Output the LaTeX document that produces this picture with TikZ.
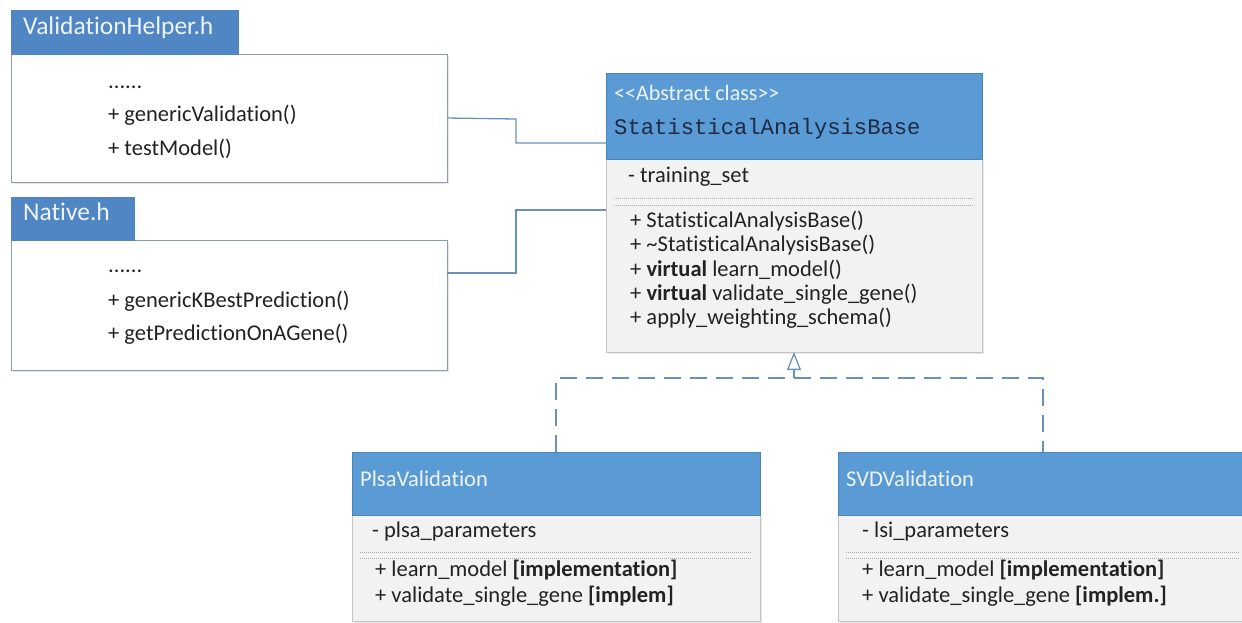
\documentclass[tikz,border=0pt]{standalone}
\usepackage{fontspec}
\setmainfont{Carlito}[Ligatures={NoCommon}]
\newfontfamily\codefont{Liberation Mono}
\usetikzlibrary{arrows.meta,shadows}
\definecolor{hdrblue}{HTML}{5B9BD5}
\definecolor{tabblue}{HTML}{4F86C3}
\definecolor{hdrtext}{HTML}{EEF4FB}
\definecolor{bodyfill}{HTML}{F2F2F2}
\definecolor{bodyline}{HTML}{C4C4C4}
\definecolor{sepcol}{HTML}{ABABAB}
\definecolor{fileline}{HTML}{8A9AB0}
\definecolor{connline}{HTML}{6A90BA}
\definecolor{txtcol}{HTML}{222222}
\definecolor{codecol}{HTML}{1F2A44}
\begin{document}
\begin{tikzpicture}[x=1pt,y=-1pt,
  shade/.style={drop shadow={opacity=0.18,shadow xshift=1.5pt,shadow yshift=-2pt}},
  filebox/.style={draw=fileline,fill=white,line width=1pt,anchor=north west,inner sep=0,outer sep=0,shade},
  tabbox/.style={fill=tabblue,draw=tabblue,line width=0.6pt,anchor=north west,inner sep=0,outer sep=0},
  headbox/.style={fill=hdrblue,draw=hdrblue!85!black,line width=0.6pt,anchor=north west,inner sep=0,outer sep=0},
  bodybox/.style={fill=bodyfill,draw=bodyline,line width=1pt,anchor=north west,inner sep=0,outer sep=0,shade},
  txt/.style={anchor=west,inner sep=0,text height=0.7em,text depth=0.2em,font=\fontsize{22.5}{24}\selectfont,text=txtcol},
  ttl/.style={anchor=west,inner sep=0,text height=0.7em,text depth=0.2em,font=\fontsize{25.5}{28}\selectfont,text=hdrtext},
  htxt/.style={anchor=west,inner sep=0,text height=0.7em,text depth=0.2em,font=\fontsize{22.5}{24}\selectfont,text=hdrtext},
  sepline/.style={draw=sepcol,line width=0.9pt,dash pattern=on 1pt off 1pt},
  conn/.style={draw=connline,line width=1.3pt},
  realize/.style={draw=connline,line width=1.5pt,dash pattern=on 17pt off 9pt}
]
\useasboundingbox (0,0) rectangle (1242,622);
\clip (0,0) rectangle (1242,622);

% ValidationHelper.h
\node[filebox,minimum width=436pt,minimum height=128pt] (vh) at (11,54) {};
\node[tabbox,minimum width=227pt,minimum height=44pt] (vhtab) at (11,10) {};
\node[ttl] (vhtitle) at (23,32) {ValidationHelper.h};
\node[txt] (vh1) at (108,86) {......};
\node[txt] (vh2) at (108,119) {+ genericValidation()};
\node[txt] (vh3) at (108,153) {+ testModel()};

% Native.h
\node[filebox,minimum width=436pt,minimum height=130pt] (nat) at (11,240) {};
\node[tabbox,minimum width=123pt,minimum height=43pt] (nattab) at (11,197) {};
\node[ttl] (nattitle) at (23,218) {Native.h};
\node[txt] (nat1) at (108,270) {......};
\node[txt] (nat2) at (108,305) {+ genericKBestPrediction()};
\node[txt] (nat3) at (108,338) {+ getPredictionOnAGene()};

% StatisticalAnalysisBase
\node[bodybox,minimum width=376pt,minimum height=193pt] (sab) at (606,159) {};
\node[headbox,minimum width=376pt,minimum height=86pt] (sabhead) at (606,73) {};
\node[htxt,font=\fontsize{22}{24}\selectfont] (sabster) at (614,98) {<\kern0pt<Abstract class>\kern0pt>};
\node[anchor=west,inner sep=0,text height=0.7em,text depth=0.2em,font=\codefont\fontsize{22.2}{24}\selectfont,text=codecol] (sabname) at (614,132) {StatisticalAnalysisBase};
\node[txt] (sa1) at (628,180) {- training\_set};
\draw[sepline] ([xshift=8pt,yshift=-39pt]sab.north west) -- ([xshift=-8pt,yshift=-39pt]sab.north east);
\draw[sepline] ([xshift=8pt,yshift=-46pt]sab.north west) -- ([xshift=-8pt,yshift=-46pt]sab.north east);
\node[txt] (sm1) at (630,225) {+ StatisticalAnalysisBase()};
\node[txt] (sm2) at (630,249) {+ \textasciitilde StatisticalAnalysisBase()};
\node[txt] (sm3) at (630,274) {+ \textbf{virtual} learn\_model()};
\node[txt] (sm4) at (630,298) {+ \textbf{virtual} validate\_single\_gene()};
\node[txt] (sm5) at (630,322) {+ apply\_weighting\_schema()};

% PlsaValidation
\node[bodybox,minimum width=408pt,minimum height=106pt] (plsa) at (352,515) {};
\node[headbox,minimum width=408pt,minimum height=63pt] (plsahead) at (352,452) {};
\node[htxt] (plsatitle) at (360,484) {PlsaValidation};
\node[txt] (pa1) at (372,535) {- plsa\_parameters};
\draw[sepline] ([xshift=8pt,yshift=-37pt]plsa.north west) -- ([xshift=-8pt,yshift=-37pt]plsa.north east);
\draw[sepline] ([xshift=8pt,yshift=-43pt]plsa.north west) -- ([xshift=-8pt,yshift=-43pt]plsa.north east);
\node[txt] (pm1) at (375,574) {+ learn\_model \textbf{[implementation]}};
\node[txt] (pm2) at (375,600) {+ validate\_single\_gene \textbf{[implem]}};

% SVDValidation
\node[bodybox,minimum width=410pt,minimum height=106pt] (svd) at (838,515) {};
\node[headbox,minimum width=410pt,minimum height=63pt] (svdhead) at (838,452) {};
\node[htxt] (svdtitle) at (846,484) {SVDValidation};
\node[txt] (va1) at (862,535) {- lsi\_parameters};
\draw[sepline] ([xshift=8pt,yshift=-37pt]svd.north west) -- ([xshift=-8pt,yshift=-37pt]svd.north east);
\draw[sepline] ([xshift=8pt,yshift=-43pt]svd.north west) -- ([xshift=-8pt,yshift=-43pt]svd.north east);
\node[txt] (vm1) at (862,574) {+ learn\_model \textbf{[implementation]}};
\node[txt] (vm2) at (862,600) {+ validate\_single\_gene \textbf{[implem.]}};

% connectors
\coordinate (vhbend) at (516,119);
\draw[conn] (vh.east) -- (vhbend) |- ([yshift=-70pt]sabhead.north west);
\coordinate (natbend) at (516,273);
\draw[conn] ([yshift=32pt]nat.east) -- (natbend) |- ([yshift=-137pt]sabhead.north west);

% realization
\coordinate (junc) at (794,378);
\draw[realize] (plsahead.north) -- (plsahead.north |- junc) -- (svdhead.north |- junc) -- (svdhead.north);
\draw[draw=connline,line width=1.3pt,-{Triangle[open,width=14pt,length=18pt,line width=1.3pt]}] (junc) -- (sab.south);
\end{tikzpicture}
\end{document}
